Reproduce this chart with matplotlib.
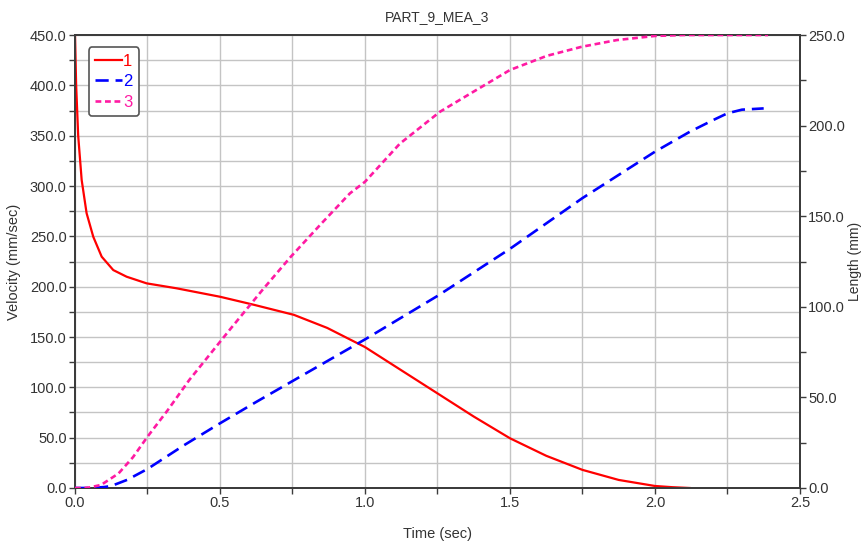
import matplotlib
matplotlib.use("Agg")
import matplotlib.pyplot as plt
from matplotlib.ticker import MultipleLocator, FormatStrFormatter

plt.rcParams['font.family'] = ['Liberation Sans', 'DejaVu Sans']

# Velocity trace (left axis)
time_vel = [0, 0.004, 0.011, 0.023, 0.04, 0.063, 0.092, 0.132, 0.178, 0.247,
            0.35, 0.5, 0.617, 0.755, 0.87, 1.0, 1.125, 1.25, 1.375, 1.5,
            1.625, 1.75, 1.875, 2.0, 2.06, 2.12]
velocity = [450, 400, 350, 306, 273, 249.6, 229.8, 216.5, 209.9, 203.3,
            198.4, 190, 182, 172, 159, 140, 117, 94, 71, 49.4,
            32, 18, 8, 2, 0.8, 0]

# Length traces (right axis)
time_len2 = [0, 0.05, 0.1, 0.125, 0.18, 0.25, 0.375, 0.5, 0.625, 0.75, 0.875,
             1.0, 1.25, 1.5, 1.75, 2.0, 2.12, 2.2, 2.25, 2.3, 2.375]
length2 = [0, 0, 0.5, 1.1, 4.5, 10.5, 23.5, 35.7, 47.5, 59, 70.5,
           82, 106, 132, 160, 185.6, 196.6, 203, 206.8, 208.8, 209.5]

time_len3 = [0, 0.03, 0.05, 0.09, 0.15, 0.2, 0.25, 0.32, 0.394, 0.537, 0.65,
             0.744, 0.85, 0.948, 1.0, 1.12, 1.259, 1.374, 1.5, 1.627, 1.747,
             1.868, 2.0, 2.1, 2.39]
length3 = [0, 0, 0.3, 1.7, 8, 17, 28.3, 43, 59.6, 88, 110,
           127.6, 146, 162.6, 169, 190, 207.7, 218.7, 230.7, 238.5, 243.5,
           247.2, 249.5, 250, 250]

series_labels = ['1', '2', '3']
colors = ['#ff0000', '#0000ff', '#ff1aa3']

fig = plt.figure(figsize=(8.62, 5.43), dpi=100)
ax = fig.add_axes([0.087, 0.1013, 0.841, 0.8342])
ax2 = ax.twinx()

spine_col = '#3c3c3c'
grid_col = '#c4c4c4'

ax.set_xlim(0, 2.5)
ax.set_ylim(0, 450)
ax2.set_ylim(0, 250)

ax.xaxis.set_major_locator(MultipleLocator(0.5))
ax.xaxis.set_minor_locator(MultipleLocator(0.25))
ax.yaxis.set_major_locator(MultipleLocator(50))
ax.yaxis.set_minor_locator(MultipleLocator(25))
ax2.yaxis.set_major_locator(MultipleLocator(50))
ax2.yaxis.set_minor_locator(MultipleLocator(25))
ax.xaxis.set_major_formatter(FormatStrFormatter('%.1f'))
ax.yaxis.set_major_formatter(FormatStrFormatter('%.1f'))
ax2.yaxis.set_major_formatter(FormatStrFormatter('%.1f'))

ax.grid(True, which='both', color=grid_col, lw=1.0)
ax.set_axisbelow(True)

for a in (ax, ax2):
    for s in a.spines.values():
        s.set_color(spine_col)
        s.set_linewidth(1.4)
    a.tick_params(which='both', direction='out', length=4, width=1.0,
                  color=spine_col, labelsize=10.5, labelcolor='#333333', pad=2)

l1, = ax.plot(time_vel, velocity, color=colors[0], lw=1.6, label=series_labels[0],
              zorder=3)
l2, = ax2.plot(time_len2, length2, color=colors[1], lw=1.9, ls=(0, (5, 2.6)),
               label=series_labels[1], zorder=3)
l3, = ax2.plot(time_len3, length3, color=colors[2], lw=1.9, ls=(0, (2.2, 1.4)),
               label=series_labels[2], zorder=3)

ax.set_title('PART_9_MEA_3', fontsize=10, color='#333333', pad=10)
ax.set_xlabel('Time (sec)', fontsize=10.5, color='#333333', labelpad=12)
ax.set_ylabel('Velocity (mm/sec)', fontsize=10.5, color='#333333', labelpad=6)
ax2.set_ylabel('Length (mm)', fontsize=10, color='#333333')
ax2.yaxis.set_label_coords(1.0665, 0.5)

leg = ax2.legend(handles=[l1, l2, l3], loc='upper left',
                 bbox_to_anchor=(0.019, 0.973), fontsize=12,
                 handlelength=1.6, handletextpad=0.05, labelspacing=0.32,
                 borderpad=0.4, borderaxespad=0, fancybox=True,
                 framealpha=1, edgecolor='#555555')
leg.get_frame().set_linewidth(1.2)
for txt, c in zip(leg.get_texts(), colors):
    txt.set_color(c)

fig.savefig('out.png', dpi=100)
